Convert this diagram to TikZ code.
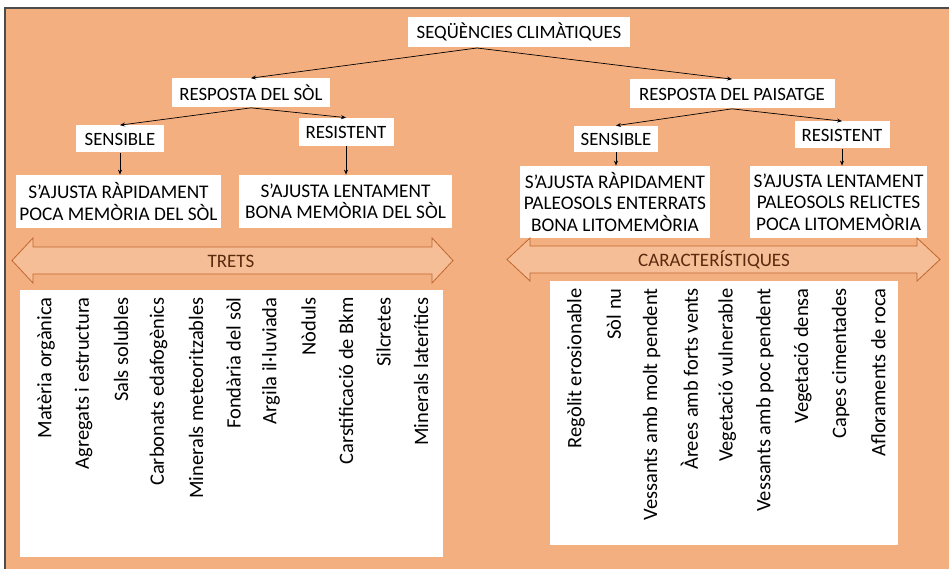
\documentclass[tikz,border=0pt]{standalone}
\usepackage{fontspec}
\setmainfont{Carlito}
\usetikzlibrary{positioning}
\usetikzlibrary{arrows.meta}
\definecolor{fons}{HTML}{F3AF7F}
\definecolor{fletxa}{HTML}{F6BE96}
\definecolor{vora}{HTML}{C0672F}
\definecolor{marro}{HTML}{5B2A0E}

\begin{document}
\begin{tikzpicture}[x=1pt, y=-1pt, >={Stealth[length=5pt,width=4pt]},
labelnode/.style={fill=white, inner sep=0pt, align=center, font=\fontsize{18.8}{22}\selectfont},
boxnode/.style={fill=white, inner sep=0pt, align=center, font=\fontsize{19.3}{21.5}\selectfont},
itemnode/.style={rotate=90, anchor=east, inner sep=0pt, font=\fontsize{20.5}{24}\selectfont},
bandarrow/.style={draw=vora, fill=fletxa, line width=0.8pt},
bandtext/.style={text=marro, inner sep=0pt, font=\fontsize{19}{22}\selectfont},
every path/.append style={line width=0.7pt}]
\useasboundingbox (0,0) rectangle (949,569);
\fill[fons] (5,8) rectangle (949,569);
\draw[black!70, line width=2pt] (5,569) -- (5,8) -- (949,8);

\node[labelnode, minimum width=222, minimum height=30] (clima) at (519,32) {SEQÜÈNCIES CLIMÀTIQUES};
\coordinate (cim) at (477,48);
\node[labelnode, minimum width=158, minimum height=29] (sol) at (251,93) {RESPOSTA DEL SÒL};
\node[labelnode, minimum width=205, minimum height=29] (paisatge) at (732,94) {RESPOSTA DEL PAISATGE};
\node[labelnode, minimum width=88, minimum height=27] (solsens) at (120,139) {SENSIBLE};
\node[labelnode, minimum width=95, minimum height=28] (solres) at (346,132) {RESISTENT};
\node[labelnode, minimum width=84, minimum height=26] (paissens) at (616,139) {SENSIBLE};
\node[labelnode, minimum width=95, minimum height=27] (paisres) at (842,135) {RESISTENT};
\node[boxnode, minimum width=205, minimum height=53] (solrapid) at (118.5,201.5) {S'AJUSTA RÀPIDAMENT\\POCA MEMÒRIA DEL SÒL};
\node[boxnode, minimum width=213, minimum height=53] (sollent) at (345.5,201.5) {S'AJUSTA LENTAMENT\\BONA MEMÒRIA DEL SÒL};
\node[boxnode, minimum width=190, minimum height=72] (paisrapid) at (615,202) {S'AJUSTA RÀPIDAMENT\\PALEOSOLS ENTERRATS\\BONA LITOMEMÒRIA};
\node[boxnode, minimum width=177, minimum height=72] (paislent) at (838.5,202) {S'AJUSTA LENTAMENT\\PALEOSOLS RELICTES\\POCA LITOMEMÒRIA};

\draw[->] (cim) -- (sol.north);
\draw[->] (cim) -- (paisatge.north);
\draw[->] (sol.south) -- (solsens.north);
\draw[->] (sol.south) -- (solres.north);
\draw[->] (paisatge.south) -- (paissens.north);
\draw[->] (paisatge.south) -- (paisres.north);
\draw[->] (solsens.south) -- (solsens.south |- solrapid.north);
\draw[->] (solres.south) -- (solres.south |- sollent.north);
\draw[->] (paissens.south) -- (paissens.south |- paisrapid.north);
\draw[->] (paisres.south) -- (paisres.south |- paislent.north);

\draw[bandarrow] (12,260.5) -- (33,238) -- (33,247) -- (432,247) -- (432,238) -- (453,260.5) -- (432,283) -- (432,274) -- (33,274) -- (33,283) -- cycle;
\node[bandtext] (trets) at (231,261) {TRETS};
\draw[bandarrow] (507,259.5) -- (530,238) -- (530,246) -- (917,246) -- (917,238) -- (940,259.5) -- (917,281) -- (917,273) -- (530,273) -- (530,281) -- cycle;
\node[bandtext] (caracteristiques) at (714,260) {CARACTERÍSTIQUES};

\node[fill=white, inner sep=0pt, minimum width=423, minimum height=267] (llistasol) at (231.5,423.5) {};
\node[fill=white, inner sep=0pt, minimum width=348, minimum height=264] (llistapais) at (724,413) {};

\foreach \t [count=\i from 0] in {Matèria orgànica, Agregats i estructura, Sals solubles, Carbonats edafogènics, Minerals meteoritzables, Fondària del sòl, Argila il·luviada, Nòduls, Carstificació de Bkm, Silcretes, Minerals laterítics}
  \node[itemnode] (tret\i) at (46+37.5*\i,297) {\t};
\foreach \t [count=\i from 0] in {Regòlit erosionable, Sòl nu, Vessants amb molt pendent, Àrees amb forts vents, Vegetació vulnerable, Vessants amb poc pendent, Vegetació densa, Capes cimentades, Afloraments de roca}
  \node[itemnode] (carac\i) at (576+37.8*\i,288) {\t};
\end{tikzpicture}
\end{document}
